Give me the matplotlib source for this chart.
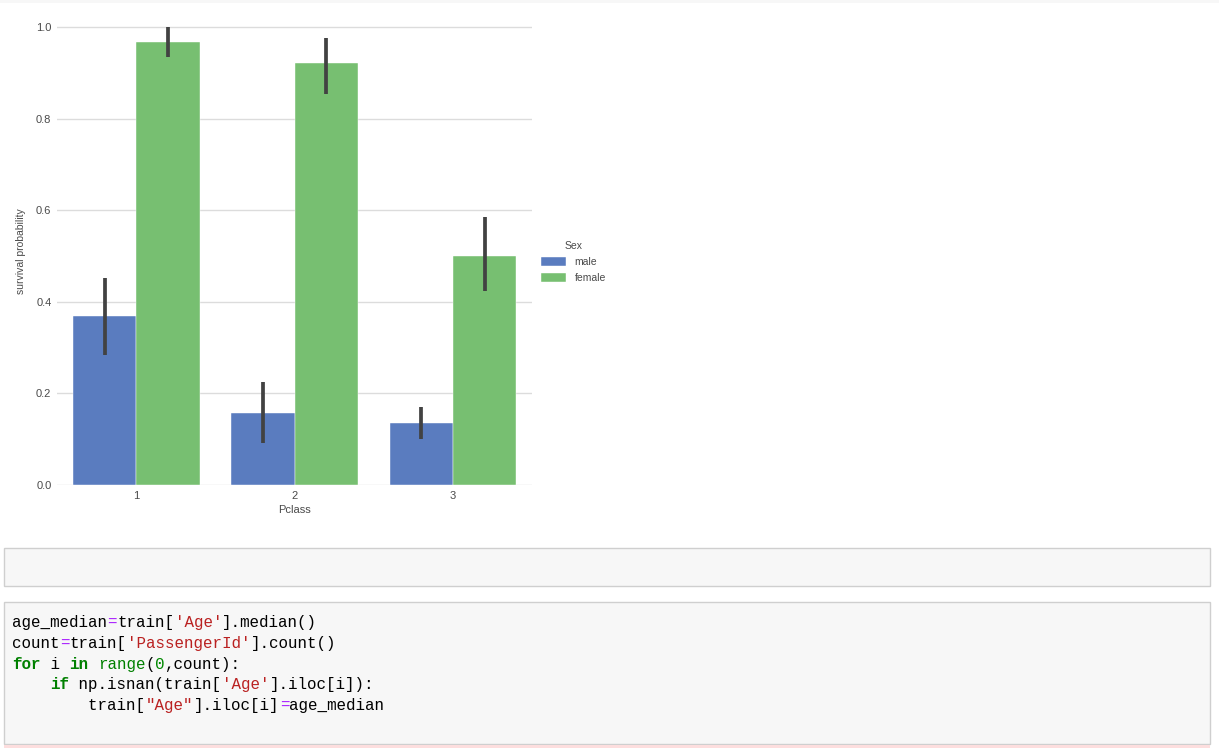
import matplotlib
matplotlib.use("Agg")
import matplotlib.pyplot as plt
from matplotlib.patches import Rectangle
import numpy as np

# data
pclass = ["1", "2", "3"]
sexes = ["male", "female"]
survival = {
    "male": [0.369, 0.157, 0.135],
    "female": [0.968, 0.921, 0.500],
}
ci_low = {
    "male": [0.284, 0.092, 0.100],
    "female": [0.935, 0.853, 0.424],
}
ci_high = {
    "male": [0.452, 0.224, 0.170],
    "female": [1.000, 0.976, 0.585],
}
colors = {"male": "#5a7cbf", "female": "#77bf71"}

code_lines = [
    [("age_median", "k"), ("=", "p"), ("train[", "k"), ("'Age'", "s"), ("].median()", "k")],
    [("count", "k"), ("=", "p"), ("train[", "k"), ("'PassengerId'", "s"), ("].count()", "k")],
    [("for", "kw"), (" i ", "k"), ("in", "kw"), (" ", "k"), ("range", "b"), ("(", "k"),
     ("0", "n"), (",count):", "k")],
    [("    ", "k"), ("if", "kw"), (" np.isnan(train[", "k"), ("'Age'", "s"), ("].iloc[i]):", "k")],
    [("        train[", "k"), ('"Age"', "s"), ("].iloc[i]", "k"), ("=", "p"), ("age_median", "k")],
]

W, H = 1219, 748
fig = plt.figure(figsize=(W / 100, H / 100), dpi=100)
plt.rcParams['font.family'] = ['Liberation Sans', 'DejaVu Sans']


def fx(px):
    return px / W


def fy(py):
    return 1 - py / H


# chart
ax = fig.add_axes([fx(57), fy(485), fx(532) - fx(57), fy(18) - fy(485)])
x = np.arange(len(pclass))
width = 0.4
for i, sex in enumerate(sexes):
    pos = x - width / 2 + i * width
    ax.bar(pos, survival[sex], width, color=colors[sex], label=sex, zorder=2,
           edgecolor="white", linewidth=0.3)
    ax.vlines(pos, ci_low[sex], ci_high[sex], color="#424242", lw=2.7, zorder=3)

ax.set_xlim(-0.5, 2.5)
ax.set_ylim(0, 1.02)
ax.set_yticks([0.0, 0.2, 0.4, 0.6, 0.8, 1.0])
ax.set_yticklabels(["0.0", "0.2", "0.4", "0.6", "0.8", "1.0"])
ax.set_xticks(x)
ax.set_xticklabels(pclass)
ax.grid(axis="y", color="#dcdcdc", lw=1.0, zorder=0)
ax.set_axisbelow(True)
for s in ax.spines.values():
    s.set_visible(False)
ax.tick_params(length=0, labelsize=8, labelcolor="#4a4a4a", pad=4)
ax.set_xlabel("Pclass", fontsize=8, color="#4a4a4a", labelpad=3)
ax.set_ylabel("survival probability", fontsize=7.5, color="#4a4a4a", labelpad=7)

leg = ax.legend(title="Sex", loc="center left", bbox_to_anchor=(fx(532), fy(262)),
                bbox_transform=fig.transFigure, frameon=False, fontsize=7.5,
                title_fontsize=7.5, handlelength=2.4, handleheight=0.9,
                labelspacing=0.6, handletextpad=0.8)
for t in leg.get_texts():
    t.set_color("#4a4a4a")
leg.get_title().set_color("#4a4a4a")

# notebook cells
fig.patches.append(Rectangle((0, fy(3)), 1, fy(0) - fy(3), transform=fig.transFigure,
                             facecolor="#f7f7f7", edgecolor="none"))
fig.patches.append(Rectangle((fx(4), fy(586)), fx(1210) - fx(4), fy(548) - fy(586),
                             transform=fig.transFigure, facecolor="#f7f7f7",
                             edgecolor="#cfcfcf", lw=1))
fig.patches.append(Rectangle((fx(4), fy(744)), fx(1210) - fx(4), fy(602) - fy(744),
                             transform=fig.transFigure, facecolor="#f7f7f7",
                             edgecolor="#cfcfcf", lw=1))
fig.patches.append(Rectangle((fx(4), 0), fx(1210) - fx(4), fy(745),
                             transform=fig.transFigure, facecolor="#fddede",
                             edgecolor="none"))

code_colors = {"k": "black", "p": "#aa22ff", "s": "#ba2121", "kw": "#008000",
               "b": "#008000", "n": "#008800"}
char_w = 9.56
for row, segs in enumerate(code_lines):
    col = 0
    for txt, kind in segs:
        fig.text(fx(12 + col * char_w), fy(627 + row * 20.8), txt,
                 family="Liberation Mono", fontsize=char_w / 0.6 / 100 * 72,
                 color=code_colors[kind], weight="bold" if kind == "kw" else "normal",
                 va="baseline", ha="left")
        col += len(txt)

fig.savefig("out.png", dpi=100)
